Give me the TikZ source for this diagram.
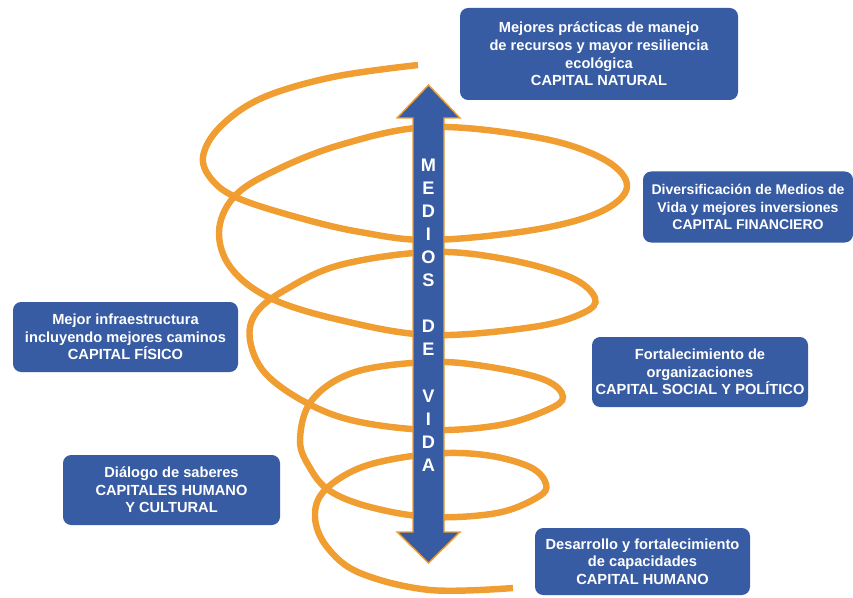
\documentclass[tikz,border=0pt]{standalone}
\usepackage{fontspec}
\setmainfont{Liberation Sans}
\definecolor{azul}{RGB}{55,92,163}
\definecolor{naranja}{RGB}{240,157,49}
\newcommand{\pxu}{0.03cm}

\begin{document}
\begin{tikzpicture}[
    x = 0.03cm, y = -0.03cm,
    espiral/.style = {draw = naranja, line width = 5.5pt},
    caja/.style = {rectangle, rounded corners = 7pt, fill = azul, text = white,
        align = center, inner sep = 0pt,
        font = \fontsize{12.5}{15}\selectfont\bfseries},
    letra/.style = {text = white, inner sep = 0pt,
        font = \fontsize{15.5}{15.5}\selectfont\bfseries},
    flecha/.style = {fill = azul, draw = naranja, line width = 1.2pt}]

\useasboundingbox (0,0) rectangle (853,597);

% espiral
\draw[espiral] plot[smooth, tension = 0.6] coordinates {
    (418,65) (333,77) (262,98) (220,127) (203,157) (213,181) (240,199)
    (300,218) (360,232) (430,240) (533,230) (600,212) (627,187) (605,160)
    (540,138) (430,127) (340,145) (270,173) (233,198) (219,232) (231,268)
    (270,298) (340,320) (430,335) (533,327) (583,313) (595,298) (570,277)
    (505,259) (430,252) (340,265) (285,290) (256,313) (250,340) (265,373)
    (305,402) (355,421) (430,430) (500,425) (547,410) (563,397) (545,380)
    (490,367) (430,362) (355,372) (312,400) (300,440) (310,468) (330,491)
    (370,507) (430,517) (497,513) (538,497) (546,484) (530,467) (485,455)
    (430,454) (365,466) (325,490) (315,517) (327,547) (360,573) (430,590)
    (513,588)};

% flecha
\coordinate (arriba) at (428.5,85);
\coordinate (abajo) at (428.5,563);
\filldraw[flecha] (arriba) -- (460,118) -- (444,118) -- (444,532) -- (460,532) --
    (abajo) -- (397,532) -- (413,532) -- (413,118) -- (397,118) -- cycle;

\foreach \l/\k in {M/0,E/1,D/2,I/3,O/4,S/5,D/7,E/8,V/10,I/11,D/12,A/13}
    \node[letra] (letra\k) at (428.5,165+\k*23.08) {\l};

% capitales
\path (599,54) node[caja, minimum width = 278*\pxu, minimum height = 92*\pxu] (natural)
        {Mejores prácticas de manejo\\de recursos y mayor resiliencia\\ecológica\\CAPITAL NATURAL}
      (748,207) node[caja, minimum width = 210*\pxu, minimum height = 71*\pxu,
        font = \fontsize{12}{15}\selectfont\bfseries] (financiero)
        {Diversificación de Medios de\\Vida y mejores inversiones\\CAPITAL FINANCIERO}
      (125.5,337) node[caja, minimum width = 225*\pxu, minimum height = 70*\pxu] (fisico)
        {Mejor infraestructura\\incluyendo mejores caminos\\CAPITAL FÍSICO}
      (700,372) node[caja, minimum width = 216*\pxu, minimum height = 70*\pxu] (social)
        {Fortalecimiento de\\organizaciones\\CAPITAL SOCIAL Y POLÍTICO}
      (171.5,490) node[caja, minimum width = 217*\pxu, minimum height = 70*\pxu] (cultural)
        {Diálogo de saberes\\CAPITALES HUMANO\\Y CULTURAL}
      (642.5,561.5) node[caja, minimum width = 215*\pxu, minimum height = 67*\pxu] (humano)
        {Desarrollo y fortalecimiento\\de capacidades\\CAPITAL HUMANO}
      ;
\end{tikzpicture}
\end{document}
